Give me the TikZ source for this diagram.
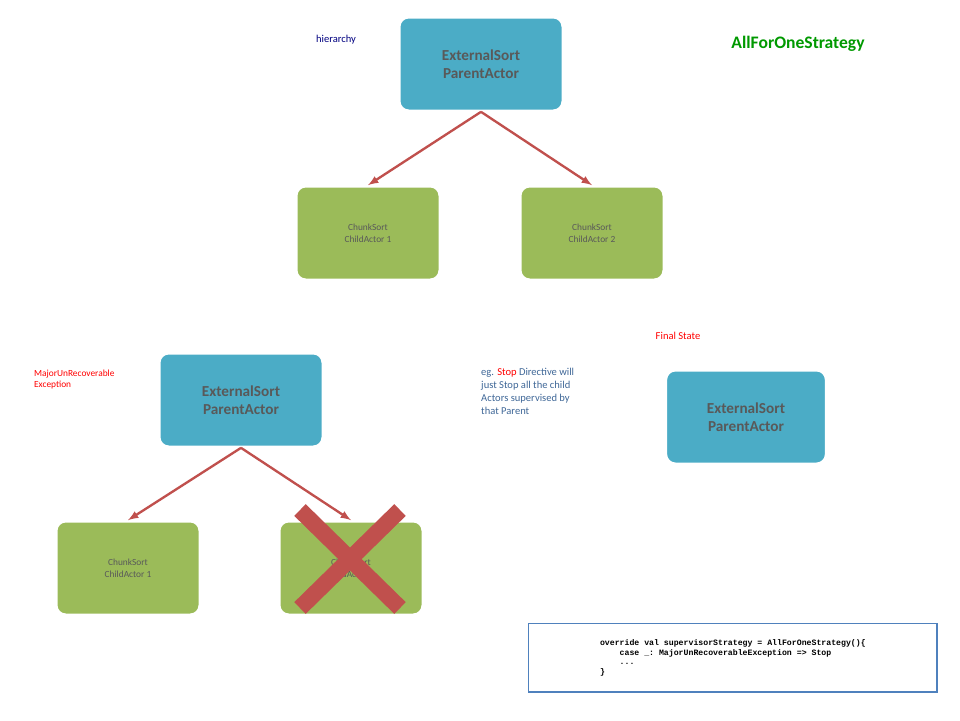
\documentclass[tikz,border=0pt]{standalone}
\usepackage{fontspec}
\setmainfont{Carlito}
\setmonofont{Liberation Mono}
\usetikzlibrary{positioning}
\definecolor{actorblue}{HTML}{4BACC6}
\definecolor{actorgreen}{HTML}{9BBB59}
\definecolor{linkred}{HTML}{C0504D}
\definecolor{textgrey}{HTML}{595959}
\definecolor{codeblue}{HTML}{4F81BD}
\tikzset{
  parentbox/.style={draw=white, line width=2pt, fill=actorblue, rounded corners=8pt,
    minimum width=4.9cm, minimum height=2.8cm, align=center, text=textgrey,
    font=\fontsize{13}{15}\selectfont\bfseries},
  childbox/.style={draw=white, line width=2pt, fill=actorgreen, rounded corners=8pt,
    minimum width=4.3cm, minimum height=2.8cm, align=center, text=textgrey,
    font=\fontsize{8}{10}\selectfont},
  link/.style={draw=linkred, line width=2pt, -latex},
}
\begin{document}
\begin{tikzpicture}[x=0.03cm, y=-0.03cm]
  \useasboundingbox (0,0) rectangle (960,720);
  % top tree
  \node[parentbox] (top) at (481,64) {ExternalSort\\ParentActor};
  \node[childbox] (topc1) at (368,233) {ChunkSort\\ChildActor 1};
  \node[childbox] (topc2) at (592,233) {ChunkSort\\ChildActor 2};
  \draw[link] (top.south) -- (topc1.north);
  \draw[link] (top.south) -- (topc2.north);
  \node[text=blue!50!black, font=\small] (hier) at (336,40) {hierarchy};
  \node[text=green!60!black, font=\fontsize{15}{17}\selectfont\bfseries] (title) at (798,44) {AllForOneStrategy};
  % failing tree
  \node[parentbox] (fail) at (241,400) {ExternalSort\\ParentActor};
  \node[childbox] (failc1) at (128,568) {ChunkSort\\ChildActor 1};
  \node[childbox] (failc2) at (351,568) {ChunkSort\\ChildActor 2};
  \draw[link] (fail.south) -- (failc1.north);
  \draw[link] (fail.south) -- (failc2.north);
  \draw[linkred, line width=14pt] (300,510) -- (400,608);
  \draw[linkred, line width=14pt] (400,510) -- (300,608);
  \node[text=red, font=\footnotesize, align=left, anchor=north west] (exc) at (30,366) {MajorUnRecoverable\\Exception};
  % final state
  \node[text=red, font=\small] (final) at (678,336) {Final State};
  \node[text=codeblue!80!black, font=\small, align=left, anchor=north west, inner sep=0pt] (note) at (481,368)
    {eg. \textcolor{red}{Stop} Directive will\\just Stop all the child\\Actors supervised by\\that Parent};
  \node[parentbox, minimum width=4.8cm] (end) at (746,417) {ExternalSort\\ParentActor};
  % code
  \node[draw=codeblue, line width=1.2pt, fill=white, anchor=north west, align=left,
    minimum width=12.25cm, minimum height=2.05cm, font=\ttfamily\bfseries\fontsize{7}{8.5}\selectfont] (code) at (528,623)
    {override val supervisorStrategy = AllForOneStrategy()\{\\
    \ \ \ \ case \_: MajorUnRecoverableException => Stop\\
    \ \ \ \ ...\\
    \}};
\end{tikzpicture}
\end{document}
